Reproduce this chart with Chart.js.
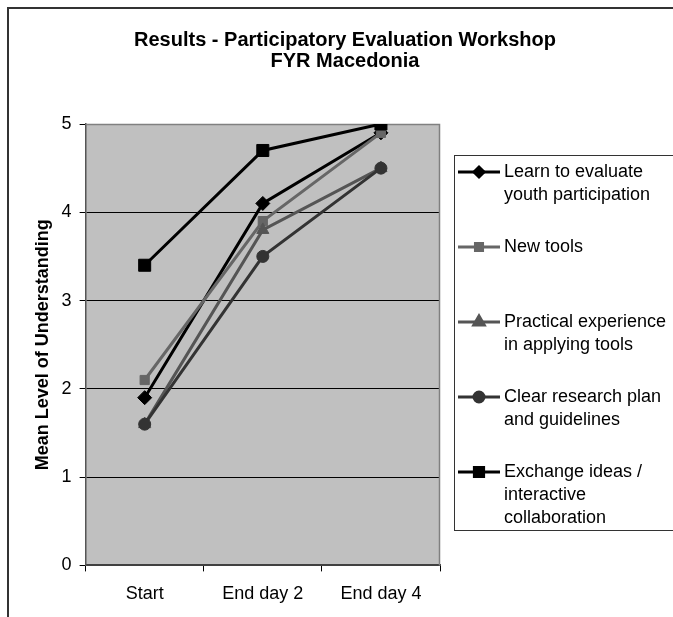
<!DOCTYPE html>
<html><head><meta charset="utf-8">
<script src="https://cdn.jsdelivr.net/npm/chart.js@4/dist/chart.umd.min.js"></script>
<style>html,body{margin:0;padding:0;background:#fff;}canvas{display:block;}</style>
</head><body>
<canvas id="c" width="673" height="617"></canvas>
<script>
// ---- data ----
const categories = ['Start', 'End day 2', 'End day 4'];
const seriesNames = ['Learn to evaluate youth participation', 'New tools', 'Practical experience in applying tools', 'Clear research plan and guidelines', 'Exchange ideas / interactive collaboration'];
const legendLines = [
  ['Learn to evaluate', 'youth participation'],
  ['New tools'],
  ['Practical experience', 'in applying tools'],
  ['Clear research plan', 'and guidelines'],
  ['Exchange ideas /', 'interactive', 'collaboration']
];
const learnValues = [1.9, 4.1, 4.9];
const newToolsValues = [2.1, 3.9, 4.9];
const practicalValues = [1.6, 3.8, 4.5];
const clearPlanValues = [1.6, 3.5, 4.5];
const exchangeValues = [3.4, 4.7, 5.0];
const yTickValues = [0, 1, 2, 3, 4, 5];
const titleLines = ['Results - Participatory Evaluation Workshop', 'FYR Macedonia'];
const yAxisTitle = 'Mean Level of Understanding';

// ---- styles ----
const FONT = 'Arial, "Liberation Sans", sans-serif';
const seriesColors = ['#000000', '#666666', '#555555', '#333333', '#000000'];
const seriesMarkers = ['rectRot', 'rect', 'triangle', 'circle', 'rect'];
const markerRadius = [7, 6.5, 7, 6, 8.5];
const legendMarkerRadius = [5, 5, 6, 5, 6.5];

const allValues = [learnValues, newToolsValues, practicalValues, clearPlanValues, exchangeValues];
const datasets = allValues.map((vals, i) => ({
  label: seriesNames[i],
  data: vals,
  borderColor: seriesColors[i],
  backgroundColor: seriesColors[i],
  borderWidth: 3,
  tension: 0,
  fill: false,
  pointStyle: seriesMarkers[i],
  pointRadius: markerRadius[i],
  pointHoverRadius: markerRadius[i],
  pointBackgroundColor: seriesColors[i],
  pointBorderColor: seriesColors[i],
  pointBorderWidth: 1,
  order: allValues.length - i
}));

const decor = {
  id: 'decor',
  beforeDraw(chart) {
    const {ctx, chartArea: a} = chart;
    ctx.save();
    ctx.fillStyle = '#ffffff';
    ctx.fillRect(0, 0, chart.width, chart.height);
    ctx.fillStyle = '#c0c0c0';
    ctx.fillRect(a.left, a.top, a.right - a.left, a.bottom - a.top);
    ctx.strokeStyle = '#333333';
    ctx.lineWidth = 2;
    ctx.beginPath();
    ctx.moveTo(8, 700); ctx.lineTo(8, 8); ctx.lineTo(700, 8);
    ctx.stroke();
    ctx.restore();
  },
  beforeDatasetsDraw(chart) {
    const {ctx, chartArea: a} = chart;
    ctx.save();
    ctx.strokeStyle = '#808080';
    ctx.lineWidth = 1.5;
    ctx.beginPath();
    ctx.moveTo(a.left, a.top + 0.5); ctx.lineTo(a.right - 0.5, a.top + 0.5); ctx.lineTo(a.right - 0.5, a.bottom);
    ctx.stroke();
    ctx.restore();
  },
  afterDraw(chart) {
    const ctx = chart.ctx;
    ctx.save();
    // title
    ctx.fillStyle = '#000';
    ctx.textAlign = 'center';
    ctx.textBaseline = 'alphabetic';
    ctx.font = 'bold 20px ' + FONT;
    ctx.fillText(titleLines[0], 345, 46);
    ctx.fillText(titleLines[1], 345, 67);
    // legend box
    ctx.strokeStyle = '#333333';
    ctx.lineWidth = 1;
    ctx.strokeRect(454.5, 155.5, 300, 375);
    ctx.font = '18px ' + FONT;
    ctx.textAlign = 'left';
    chart.data.datasets.forEach((ds, i) => {
      const base = 177 + i * 75;
      const ly = base - 5;
      ctx.strokeStyle = ds.borderColor;
      ctx.lineWidth = 3;
      ctx.beginPath();
      ctx.moveTo(458, ly); ctx.lineTo(500, ly);
      ctx.stroke();
      ctx.fillStyle = ds.borderColor;
      ctx.strokeStyle = ds.borderColor;
      Chart.helpers.drawPoint(ctx, {pointStyle: ds.pointStyle, radius: legendMarkerRadius[i], rotation: 0, borderWidth: 1}, 479, ly);
      ctx.fillStyle = '#000';
      legendLines[i].forEach((t, k) => ctx.fillText(t, 504, base + k * 23));
    });
    ctx.restore();
  }
};

new Chart(document.getElementById('c'), {
  type: 'line',
  data: {labels: categories, datasets},
  options: {
    responsive: false,
    animation: false,
    devicePixelRatio: 1,
    layout: {padding: {left: 32, top: 124, right: 233, bottom: 0}},
    plugins: {legend: {display: false}, title: {display: false}, tooltip: {enabled: false}},
    scales: {
      x: {
        offset: true,
        grid: {offset: true, drawOnChartArea: false, drawTicks: true, tickLength: 6, color: '#000'},
        border: {color: '#404040', width: 2},
        ticks: {font: {size: 18, family: FONT}, color: '#000', padding: 12}
      },
      y: {
        min: 0, max: 5,
        afterBuildTicks(scale) { scale.ticks = yTickValues.map(v => ({value: v})); },
        grid: {color: '#000', lineWidth: 1, tickLength: 6},
        border: {color: '#555555', width: 1.5},
        ticks: {font: {size: 18, family: FONT}, color: '#000', padding: 8},
        title: {display: true, text: yAxisTitle, color: '#000', font: {size: 18, weight: 'bold', family: FONT}, padding: {top: 0, bottom: 0}}
      }
    }
  },
  plugins: [decor]
});
</script>
</body></html>
